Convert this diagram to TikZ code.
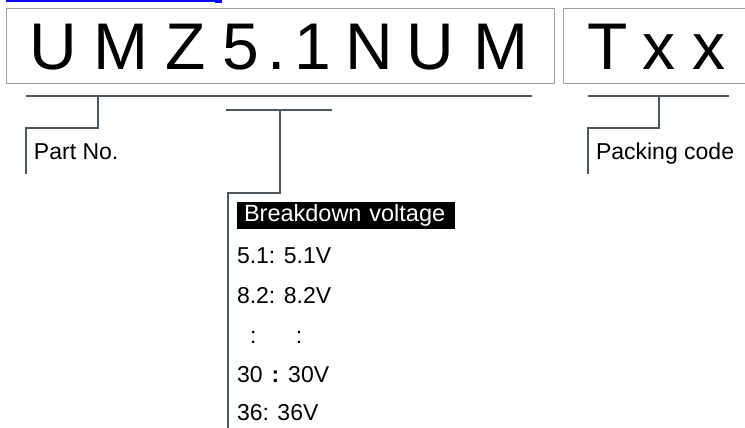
\documentclass[tikz,border=0pt]{standalone}
\usepackage{fontspec}
\setmainfont{Liberation Sans}
\definecolor{leadGray}{RGB}{78,86,94}
\definecolor{boxGray}{RGB}{160,160,160}
\definecolor{linkBlue}{RGB}{10,10,250}

\begin{document}
\begin{tikzpicture}[
    x=1pt,y=-1pt,
    line join=miter,
    every node/.style={inner sep=0pt,outer sep=0pt},
    codebox/.style={
        draw=boxGray,
        line width=0.9pt,
        minimum height=75pt
    },
    code/.style={anchor=base,font=\fontsize{66}{66}\selectfont},
    lead/.style={draw=leadGray,line width=1.8pt},
    lab/.style={anchor=base west,font=\fontsize{23}{23}\selectfont},
    headlab/.style={
        anchor=west,
        fill=black,
        text=white,
        inner xsep=7pt,
        text width=204pt,
        align=left,
        minimum height=27pt,
        font=\fontsize{23.5}{23.5}\selectfont
    }
]

\clip (0,0) rectangle (745,428);

% ============================================================
% link remnant at the top
% ============================================================

\draw[linkBlue,line width=2pt] (6,1) -- (222,1);
\fill[linkBlue] (215,0) rectangle (222,3);

% ============================================================
% code boxes
% ============================================================

\node[codebox,minimum width=548pt] (partbox) at (280,45.5) {};
\node[codebox,minimum width=197pt] (packbox) at (661.5,45.5) {};

\foreach \ch/\cx [count=\i] in {U/53,M/121,Z/186,5/241,./277,1/313,N/369,U/430,M/501}
    \node[code] (pc\i) at (\cx,70) {\ch};

\foreach \ch/\cx [count=\i] in {T/608,x/659,x/709}
    \node[code] (kc\i) at (\cx,70) {\ch};

% ============================================================
% Part No.
% ============================================================

\coordinate (pn-w) at (26,96);
\coordinate (pn-e) at (532,96);
\coordinate (pn-tap) at (98,96);
\coordinate (pn-foot) at (26,174);

\draw[lead] (pn-w) -- (pn-e);
\draw[lead] (pn-tap) -- ++(0,32) -| (pn-foot);

\node[lab] (pnlab) at (34,159) {Part No.};

% ============================================================
% Breakdown voltage
% ============================================================

\coordinate (bv-w) at (226,110);
\coordinate (bv-e) at (332,110);
\coordinate (bv-tap) at (280,110);
\coordinate (bv-foot) at (228,432);

\draw[lead] (bv-w) -- (bv-e);
\draw[lead] (bv-tap) -- ++(0,83) -| (bv-foot);

\node[headlab] (bvhead) at (237,215.5) {Breakdown voltage};

\node[lab] (bv1) at (237,263) {5.1: 5.1V};
\node[lab] (bv2) at (237,303) {8.2: 8.2V};
\node[lab] (bvdots) at (250,343) {:\hspace{39.6pt}:};
\node[lab] (bv3) at (237,382) {30\hspace{9pt}\textbf{:}\hspace{9pt}30V};
\node[lab] (bv4) at (237,420) {36: 36V};

% ============================================================
% Packing code
% ============================================================

\coordinate (pk-w) at (588,96);
\coordinate (pk-e) at (729,96);
\coordinate (pk-tap) at (659,96);
\coordinate (pk-foot) at (588,174);

\draw[lead] (pk-w) -- (pk-e);
\draw[lead] (pk-tap) -- ++(0,32) -| (pk-foot);

\node[lab] (pklab) at (596,159) {Packing code};

\end{tikzpicture}
\end{document}
